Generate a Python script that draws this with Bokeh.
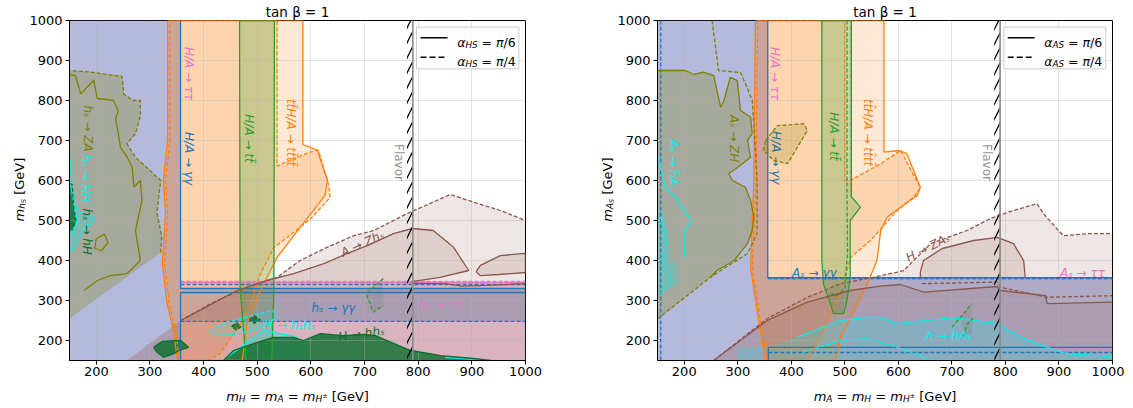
import math
from bokeh.plotting import figure
from bokeh.models import Label, FixedTicker
from bokeh.layouts import row, column
from bokeh.embed import file_html
from bokeh.resources import INLINE

# ------------------------------------------------------------------ data
M_MIN, M_MAX = 150, 1000
TICKS = [200, 300, 400, 500, 600, 700, 800, 900, 1000]
FLAVOR_M = 790
TITLE_TEXT = "tan β = 1"

# ---------- left panel (alpha_HS), x = m_H = m_A = m_H+, y = m_hS
L_EDGE_X = 357
L_TAUTAU = (345, 348)      # h_S -> tau tau  (solid, dashed)
L_HA_GAGA = (330, 340)     # H/A -> gamma gamma (solid, dashed)
L_HS_GAGA = (320, 248)     # h_S -> gamma gamma (solid, dashed)

L_ORANGE_SOLID = [(333, 1000), (585, 1000), (585, 690), (612, 676), (631, 600), (626, 562), (580, 483),
                  (537, 408), (506, 325), (481, 242), (472, 150), (351, 150), (344, 225), (332, 292),
                  (323, 392), (329, 517), (325, 600), (333, 700)]
L_ORANGE_DASHED = [(337, 1000), (537, 1000), (537, 636), (568, 655), (599, 671), (614, 676), (633, 590),
                   (636, 558), (600, 505), (556, 458), (531, 433), (506, 367), (487, 292), (469, 242),
                   (431, 167), (407, 150), (355, 150), (348, 225), (336, 292), (327, 392), (333, 517),
                   (329, 600), (337, 700)]
L_GREEN = [(467, 1000), (532, 1000), (531, 330), (527, 150), (479, 150), (468, 330)]
L_BROWN_SOLID = [(357, 250), (400, 280), (462, 325), (518, 350), (568, 367), (624, 392), (674, 421),
                 (705, 437), (754, 467), (789, 480), (828, 475), (866, 433), (894, 375), (841, 358),
                 (791, 348)]
L_BROWN_ISLAND = [(908, 372), (916, 388), (953, 412), (1000, 418), (1000, 370), (950, 365), (916, 362)]
L_BROWN_LOWER = [(790, 343), (850, 342), (880, 336), (930, 338), (1000, 342)]
L_BROWN_DASHED = [(357, 250), (413, 292), (481, 333), (537, 358), (580, 400), (630, 433), (680, 462),
                  (717, 475), (779, 517), (860, 565), (903, 546), (953, 525), (1000, 500)]
L_OLIVE_EDGE = [(150, 255), (320, 420)]
L_OLIVE_DASHED = [(320, 420), (322, 460), (313, 520), (320, 600), (300, 625), (273, 658), (257, 692),
                  (273, 717), (282, 760), (282, 800), (267, 800), (251, 817), (248, 860), (189, 871),
                  (150, 875)]
L_OLIVE_SOLID = [(150, 865), (161, 862), (171, 817), (195, 850), (202, 805), (232, 800), (241, 775),
                 (236, 755), (241, 717), (245, 683), (258, 657), (267, 633), (270, 583), (282, 600),
                 (285, 550), (273, 475), (282, 400), (257, 367), (226, 362), (202, 350), (177, 325)]
L_OLIVE_LOOP = [(200, 455), (215, 466), (222, 445), (210, 425), (197, 430), (200, 455)]
L_CYAN_HH = [(150, 667), (155, 583), (164, 525), (198, 505), (175, 470), (152, 417)]
L_CYAN_HH_SOLID = [(150, 600), (153, 580), (164, 500), (152, 455)]
L_DKGREEN_HH = [(150, 592), (155, 590), (158, 530), (162, 500), (156, 478), (150, 475)]
L_DKGREEN_BOTTOM = [(437, 150), (456, 175), (493, 192), (530, 208), (568, 208), (586, 200), (618, 217),
                    (660, 212), (700, 215), (720, 212), (786, 175), (842, 162), (903, 155), (934, 150)]
L_DKGREEN_PATCH = [(307, 183), (323, 198), (357, 200), (372, 183), (354, 175), (344, 167), (325, 158),
                   (313, 171)]
L_DKGREEN_DIAMOND1 = [(452, 235), (461, 244), (470, 235), (461, 226)]
L_DKGREEN_DIAMOND2 = [(485, 252), (495, 262), (505, 252), (495, 243)]
L_CYAN_HSHS_DASHED = [(412, 225), (444, 246), (487, 262), (530, 275), (537, 258), (506, 233), (469, 217),
                      (425, 212), (412, 225)]
L_CYAN_HSHS_SOLID = [(444, 158), (469, 183), (512, 225), (562, 212), (574, 208)]
L_CYAN_TAIL = [(850, 158), (900, 153), (945, 150)]
L_GRAY_ISLAND = [(735, 355), (703, 317), (716, 271), (735, 287)]

# ---------- right panel (alpha_AS), x = m_A = m_H = m_H+, y = m_AS
R_EDGE_X = 356
R_TAUTAU = (354, 356)      # A_S -> tau tau (solid, dashed)
R_HA_GAGA = (357, 355)     # gamma gamma upper (solid, dashed)
R_LOW_BOX = (183, 170)     # lower gamma gamma box (solid, dashed)
R_BLUE_VLINE = 156

R_ORANGE_SOLID = [(333, 1000), (573, 1000), (573, 671), (601, 675), (616, 667), (641, 583), (635, 562),
                  (604, 533), (579, 508), (567, 475), (560, 400), (542, 342), (517, 275), (492, 208),
                  (482, 150), (352, 150), (339, 250), (324, 383), (330, 600)]
R_ORANGE_DASHED = [(337, 1000), (500, 1000), (500, 600), (510, 600), (567, 642), (604, 675), (641, 583),
                   (630, 560), (598, 525), (548, 450), (511, 408), (504, 375), (492, 325), (461, 225),
                   (430, 150), (355, 150), (342, 250), (327, 383), (334, 600)]
R_GREEN = [(457, 1000), (512, 1000), (512, 560), (529, 533), (510, 500), (510, 358), (504, 300),
           (498, 267), (479, 267), (473, 292), (460, 342), (457, 400)]
R_GREEN_DASHED1 = [(504, 1000), (504, 560), (505, 420), (500, 330), (485, 312), (470, 320)]
R_GREEN_DASHED2 = [(512, 1000), (512, 560)]
R_BROWN_SOLID = [(255, 150), (355, 250), (430, 296), (510, 325), (566, 336), (604, 340), (647, 321),
                 (785, 335), (791, 325), (875, 312), (878, 292), (1000, 296)]
R_BROWN_ISLAND = [(641, 357), (641, 371), (647, 400), (682, 430), (741, 450), (785, 458), (815, 442),
                  (834, 400), (837, 357)]
R_BROWN_DASHED = [(255, 150), (355, 255), (430, 308), (492, 342), (553, 358), (598, 371), (610, 375),
                  (660, 442), (728, 475), (772, 505), (815, 525), (859, 542), (871, 517), (908, 462),
                  (953, 467), (1000, 467)]
R_BROWN_DASHED_LOWER = [(644, 342), (785, 346), (791, 333), (878, 308), (1000, 312)]
R_OLIVE_EDGE = [(150, 254), (249, 358)]
R_OLIVE_SOLID = [(249, 358), (261, 375), (293, 400), (318, 442), (327, 475), (330, 508), (324, 550),
                 (314, 583), (290, 600), (283, 617), (300, 633), (324, 658), (318, 700), (327, 717),
                 (324, 758), (305, 775), (299, 850), (286, 858), (274, 800), (268, 783), (261, 825),
                 (255, 862), (236, 871), (218, 865), (202, 875), (150, 875)]
R_OLIVE_DASHED = [(252, 1000), (264, 875), (305, 870), (318, 830), (327, 800), (332, 700), (336, 600),
                  (336, 467), (318, 417), (280, 385), (249, 358)]
R_OLIVE_LOOP = [(352, 700), (374, 737), (423, 742), (430, 725), (393, 642), (367, 650), (348, 675),
                (352, 700)]
R_CYAN_SOLID = [(411, 208), (492, 250), (541, 258), (566, 258), (598, 242), (703, 257), (785, 242),
                (828, 208), (895, 175), (915, 167), (1000, 160)]
R_CYAN_LEFT = [(300, 183), (357, 183)]
R_CYAN_DASHED = [(423, 171), (492, 200), (541, 205), (566, 196), (598, 183), (666, 150)]
R_CYAN_HA_SOLID = [(152, 658), (165, 583), (184, 558), (212, 500), (199, 467), (200, 408)]
R_CYAN_HA_DASHED = [(156, 508), (168, 450), (162, 400), (174, 350), (156, 317)]
R_CYAN_HA_FILL = [(150, 525), (160, 525), (170, 470), (172, 400), (187, 392), (187, 340), (170, 325),
                  (150, 315)]
R_GRAY_ISLAND = [(716, 258), (737, 292), (738, 217), (722, 217)]
R_GREEN_ISLAND1 = [(700, 233), (716, 258), (737, 292)]
R_GREEN_ISLAND2 = [(722, 210), (728, 240), (740, 256)]

# ------------------------------------------------------------------ style
FONT = "DejaVu Sans"
PINK, BLUE, ORANGE, GREEN = "#e377c2", "#1f77b4", "#ff7f0e", "#2ca02c"
BROWN, OLIVE, CYAN, DKGREEN = "#8c564b", "#808000", "#00f0f0", "#0a6e2a"
LW = 1.3
DASH = "4 2"

ADV = {' ': 0.318, '=': 0.838, '[': 0.390, ']': 0.390, 'G': 0.775, 'e': 0.615, 'V': 0.684,
       'A': 0.684, 'H': 0.752, 'S': 0.635, 'm': 0.974, 'h': 0.634, '±': 0.838, 'α': 0.659,
       'π': 0.602, '/': 0.337, 't': 0.392, 'a': 0.613, 'n': 0.634, 'β': 0.638}


def adv(s, size):
    return sum(ADV.get(c, 0.636) for c in s) * size


def xy(pts):
    return [a for a, _ in pts], [b for _, b in pts]


def rich(p, x, y, pieces, angle=0.0, xo=0.0, yo=0.0, color="black", align="center"):
    total = sum(adv(t, s) for t, s, _, _ in pieces)
    pos = -total / 2 if align == "center" else 0.0
    ca, sa = math.cos(angle), math.sin(angle)
    for t, s, sh, it in pieces:
        lead = len(t) - len(t.lstrip(' '))
        core = t.strip(' ')
        trail = len(t) - lead - len(core)
        pos += lead * 0.318 * s
        dx = pos * ca + sh * sa
        dy = pos * sa - sh * ca
        p.add_layout(Label(x=x, y=y, x_offset=xo + dx, y_offset=yo + dy, text=core, angle=angle,
                           text_font=FONT, text_font_size=f"{s}px",
                           text_font_style="italic" if it else "normal",
                           text_color=color, text_align="left", text_baseline="alphabetic"))
        pos += adv(core, s) + trail * 0.318 * s


def fill(p, pts, color, alpha):
    xs, ys = xy(pts)
    p.patch(xs, ys, fill_color=color, fill_alpha=alpha, line_alpha=0, level="image")


def line(p, pts, color, dash="solid", width=LW):
    xs, ys = xy(pts)
    p.line(xs, ys, line_color=color, line_width=width, line_dash=dash)


FRAME_H = 340
YLAB_W = 26
BORDER_L, BORDER_T, BORDER_B = 43, 20, 22


def make_fig(frame_w, border_right):
    p = figure(width=BORDER_L + frame_w + border_right, height=BORDER_T + FRAME_H + BORDER_B,
               x_range=(M_MIN, M_MAX), y_range=(M_MIN, M_MAX), title=TITLE_TEXT,
               output_backend="svg", toolbar_location=None, min_border_left=BORDER_L,
               min_border_right=border_right, min_border_top=BORDER_T, min_border_bottom=BORDER_B)
    p.title.align = "center"
    p.title.text_font = FONT
    p.title.text_font_size = "13.5px"
    p.title.text_font_style = "normal"
    p.title.text_color = "black"
    p.title.standoff = 2
    p.xaxis.ticker = FixedTicker(ticks=TICKS)
    p.yaxis.ticker = FixedTicker(ticks=TICKS)
    for ax in (p.xaxis[0], p.yaxis[0]):
        ax.major_label_text_font = FONT
        ax.major_label_text_font_size = "13px"
        ax.major_label_text_color = "black"
        ax.axis_line_color = "black"
        ax.major_tick_line_color = "black"
        ax.major_tick_in = 0
        ax.major_tick_out = 4
        ax.minor_tick_line_color = None
    p.yaxis.major_label_standoff = 3
    p.xaxis.major_label_standoff = 2
    p.outline_line_color = "black"
    p.outline_line_alpha = 1
    p.grid.grid_line_color = "#b0b0b0"
    p.grid.grid_line_alpha = 0.45
    p.grid.grid_line_width = 0.8
    p.background_fill_color = "white"
    return p


def strip(w, h):
    s = figure(width=w, height=h, x_range=(0, w), y_range=(0, h), output_backend="svg",
               toolbar_location=None, min_border=0, x_axis_type=None, y_axis_type=None)
    s.outline_line_color = None
    s.grid.visible = False
    return s


FW, FH = 456.0, 340.0


def px(p_dx, p_dy):
    """frame-relative pixel -> data"""
    return (M_MIN + p_dx * (M_MAX - M_MIN) / FW, M_MAX - p_dy * (M_MAX - M_MIN) / FH)


def decorate(p, sub, labels):
    # flavor line
    p.quad(left=FLAVOR_M - 11, right=FLAVOR_M - 0.5, bottom=M_MIN, top=M_MAX, fill_alpha=0,
           line_alpha=0, hatch_pattern="/", hatch_color="black", hatch_scale=15, hatch_weight=1.3)
    p.line([FLAVOR_M, FLAVOR_M], [M_MIN, M_MAX], line_color="#8a8a8a", line_width=1.6)
    p.add_layout(Label(x=765, y=645, text="Flavor", angle=-math.pi / 2, text_font=FONT,
                       text_font_size="12px", text_color="#909090", text_align="center",
                       text_baseline="middle"))
    # legend
    bl, bt = px(347, 6.7)
    br, bb = px(449.3, 48.3)
    p.quad(left=bl, right=br, bottom=bb, top=bt, fill_color="white", fill_alpha=0.85,
           line_color="#cccccc", line_width=1)
    for k, (dash, frac) in enumerate((("solid", "6"), ("6 3", "4"))):
        ry = 17.3 + 19.4 * k
        x1, yy = px(351, ry)
        x2, _ = px(378, ry)
        p.line([x1, x2], [yy, yy], line_color="black", line_width=1.6, line_dash=dash)
        tx, ty = px(387.7, ry + 4.4)
        rich(p, tx, ty, [("α", 12.5, 0, True), (sub, 8.75, 2.5, True), (" = ", 12.5, 0, False),
                         ("π", 12.5, 0, True), ("/" + frac, 12.5, 0, False)], align="left")
    # region labels
    for text, lx, ly, ang, col in labels:
        p.add_layout(Label(x=lx, y=ly, text=text, angle=math.radians(ang), text_font=FONT,
                           text_font_size="12px", text_font_style="italic", text_color=col,
                           text_align="center", text_baseline="middle"))


# ------------------------------------------------------------------ left panel
p1 = make_fig(456, 63)
fill(p1, [(M_MIN, M_MIN), (M_MAX, M_MIN), (M_MAX, L_TAUTAU[0]), (L_EDGE_X, L_TAUTAU[0]),
          (L_EDGE_X, M_MAX), (M_MIN, M_MAX)], PINK, 0.3)
fill(p1, [(M_MIN, M_MIN), (L_EDGE_X, M_MIN), (L_EDGE_X, L_HS_GAGA[1]), (M_MAX, L_HS_GAGA[1]),
          (M_MAX, L_HA_GAGA[0]), (L_EDGE_X, L_HA_GAGA[0]), (L_EDGE_X, M_MAX), (M_MIN, M_MAX)], BLUE, 0.3)
fill(p1, L_OLIVE_EDGE + L_OLIVE_DASHED, OLIVE, 0.28)
fill(p1, L_CYAN_HH + [(M_MIN, 417)], CYAN, 0.25)
fill(p1, L_ORANGE_SOLID, ORANGE, 0.18)
fill(p1, L_ORANGE_DASHED, ORANGE, 0.18)
fill(p1, L_GREEN, GREEN, 0.25)
fill(p1, [(257, M_MIN)] + L_BROWN_DASHED + [(M_MAX, M_MIN)], BROWN, 0.15)
fill(p1, [(257, M_MIN)] + L_BROWN_SOLID + [(M_MAX, 346), (M_MAX, M_MIN)], BROWN, 0.15)
fill(p1, L_BROWN_ISLAND, BROWN, 0.15)
fill(p1, L_CYAN_HSHS_DASHED, CYAN, 0.15)
fill(p1, [(430, M_MIN)] + L_CYAN_HSHS_SOLID + [(586, 200), (600, M_MIN)], CYAN, 0.25)
fill(p1, L_DKGREEN_BOTTOM, DKGREEN, 0.8)
fill(p1, L_DKGREEN_PATCH, DKGREEN, 0.8)
fill(p1, L_DKGREEN_HH, DKGREEN, 0.8)
fill(p1, L_DKGREEN_DIAMOND1, DKGREEN, 0.8)
fill(p1, L_DKGREEN_DIAMOND2, DKGREEN, 0.8)
fill(p1, L_GRAY_ISLAND, "#8a8a8a", 0.35)

line(p1, [(L_EDGE_X, L_TAUTAU[0]), (M_MAX, L_TAUTAU[0])], PINK)
line(p1, [(L_EDGE_X, L_TAUTAU[1]), (M_MAX, L_TAUTAU[1])], PINK, DASH)
line(p1, [(L_EDGE_X, M_MAX), (L_EDGE_X, L_HA_GAGA[0]), (M_MAX, L_HA_GAGA[0])], BLUE)
line(p1, [(L_EDGE_X, L_HA_GAGA[1]), (M_MAX, L_HA_GAGA[1])], BLUE, DASH)
line(p1, [(L_EDGE_X, M_MIN), (L_EDGE_X, L_HS_GAGA[0]), (M_MAX, L_HS_GAGA[0])], BLUE)
line(p1, [(L_EDGE_X, L_HS_GAGA[1]), (M_MAX, L_HS_GAGA[1])], BLUE, DASH)
line(p1, L_ORANGE_SOLID + L_ORANGE_SOLID[:1], ORANGE)
line(p1, L_ORANGE_DASHED + L_ORANGE_DASHED[:1], ORANGE, DASH)
line(p1, L_GREEN + L_GREEN[:1], GREEN)
line(p1, L_BROWN_SOLID, BROWN)
line(p1, L_BROWN_ISLAND + L_BROWN_ISLAND[:1], BROWN)
line(p1, L_BROWN_LOWER, BROWN)
line(p1, L_BROWN_DASHED, BROWN, DASH)
line(p1, L_OLIVE_DASHED, OLIVE, DASH)
line(p1, L_OLIVE_SOLID, OLIVE)
line(p1, L_OLIVE_LOOP, OLIVE)
line(p1, L_CYAN_HH, CYAN, DASH)
line(p1, L_CYAN_HH_SOLID, CYAN)
line(p1, L_DKGREEN_HH, DKGREEN, DASH)
line(p1, L_CYAN_HSHS_DASHED, CYAN, DASH)
line(p1, L_CYAN_HSHS_SOLID, CYAN)
line(p1, L_CYAN_TAIL, CYAN)
line(p1, L_DKGREEN_BOTTOM, DKGREEN)
line(p1, L_DKGREEN_PATCH + L_DKGREEN_PATCH[:1], DKGREEN)
line(p1, L_DKGREEN_DIAMOND1 + L_DKGREEN_DIAMOND1[:1], DKGREEN, DASH)
line(p1, L_DKGREEN_DIAMOND2 + L_DKGREEN_DIAMOND2[:1], DKGREEN, DASH)
line(p1, L_GRAY_ISLAND, GREEN, DASH)

LEFT_LABELS = [
    ("H/A → ττ", 372, 867, -90, PINK),
    ("H/A → γγ", 372, 655, -90, BLUE),
    ("H/A → tt̄", 484, 705, -90, GREEN),
    ("tt̄H/A → tt̄tt̄", 562, 720, -90, ORANGE),
    ("hₛ → ZA", 185, 730, -90, OLIVE),
    ("hₛ → HH", 180, 605, -90, CYAN),
    ("hₛ → hH", 182, 472, -90, DKGREEN),
    ("A → Zhₛ", 696, 442, 25, BROWN),
    ("hₛ → γγ", 642, 282, 0, BLUE),
    ("hₛ → ττ", 842, 290, 0, PINK),
    ("H → hhₛ", 694, 217, 8, DKGREEN),
    ("H → hₛhₛ", 560, 240, 0, CYAN),
]
decorate(p1, "HS", LEFT_LABELS)

# ------------------------------------------------------------------ right panel
p2 = make_fig(455, 12)
fill(p2, [(M_MIN, M_MIN), (M_MAX, M_MIN), (M_MAX, R_TAUTAU[0]), (R_EDGE_X, R_TAUTAU[0]),
          (R_EDGE_X, M_MAX), (M_MIN, M_MAX)], PINK, 0.3)
fill(p2, [(M_MIN, M_MIN), (M_MAX, M_MIN), (M_MAX, R_HA_GAGA[0]), (R_EDGE_X, R_HA_GAGA[0]),
          (R_EDGE_X, M_MAX), (M_MIN, M_MAX)], BLUE, 0.3)
fill(p2, R_OLIVE_EDGE[:1] + R_OLIVE_SOLID, OLIVE, 0.28)
fill(p2, R_CYAN_HA_FILL, CYAN, 0.25)
fill(p2, R_ORANGE_SOLID, ORANGE, 0.18)
fill(p2, R_ORANGE_DASHED, ORANGE, 0.18)
fill(p2, R_GREEN, GREEN, 0.25)
fill(p2, R_OLIVE_LOOP, OLIVE, 0.2)
fill(p2, R_BROWN_DASHED + [(M_MAX, M_MIN)], BROWN, 0.15)
fill(p2, R_BROWN_SOLID + [(M_MAX, M_MIN)], BROWN, 0.15)
fill(p2, R_BROWN_ISLAND, BROWN, 0.15)
fill(p2, [(300, M_MIN)] + R_CYAN_LEFT + R_CYAN_SOLID + [(M_MAX, M_MIN)], CYAN, 0.2)
fill(p2, R_GRAY_ISLAND, "#8a8a8a", 0.35)

line(p2, [(R_EDGE_X, R_TAUTAU[0]), (M_MAX, R_TAUTAU[0])], PINK)
line(p2, [(R_EDGE_X, R_TAUTAU[1]), (M_MAX, R_TAUTAU[1])], PINK, DASH)
line(p2, [(R_EDGE_X, M_MAX), (R_EDGE_X, R_HA_GAGA[0]), (M_MAX, R_HA_GAGA[0])], BLUE)
line(p2, [(R_EDGE_X, R_HA_GAGA[1]), (M_MAX, R_HA_GAGA[1])], BLUE, DASH)
line(p2, [(357, M_MIN), (357, R_LOW_BOX[0]), (M_MAX, R_LOW_BOX[0])], BLUE)
line(p2, [(357, R_LOW_BOX[1]), (M_MAX, R_LOW_BOX[1])], BLUE, DASH)
line(p2, [(R_BLUE_VLINE, M_MIN), (R_BLUE_VLINE, M_MAX)], BLUE, DASH)
line(p2, R_ORANGE_SOLID + R_ORANGE_SOLID[:1], ORANGE)
line(p2, R_ORANGE_DASHED + R_ORANGE_DASHED[:1], ORANGE, DASH)
line(p2, R_GREEN + R_GREEN[:1], GREEN)
line(p2, R_GREEN_DASHED1, GREEN, DASH)
line(p2, R_GREEN_DASHED2, GREEN, DASH)
line(p2, R_BROWN_SOLID, BROWN)
line(p2, R_BROWN_ISLAND, BROWN)
line(p2, R_BROWN_DASHED, BROWN, DASH)
line(p2, R_BROWN_DASHED_LOWER, BROWN, DASH)
line(p2, R_OLIVE_SOLID, OLIVE)
line(p2, R_OLIVE_DASHED, OLIVE, DASH)
line(p2, R_OLIVE_EDGE, OLIVE, DASH)
line(p2, R_OLIVE_LOOP, OLIVE, DASH)
line(p2, R_CYAN_SOLID, CYAN)
line(p2, R_CYAN_DASHED, CYAN, DASH)
line(p2, R_CYAN_HA_SOLID, CYAN)
line(p2, R_CYAN_HA_DASHED, CYAN, DASH)
line(p2, R_GREEN_ISLAND1, GREEN, DASH)
line(p2, R_GREEN_ISLAND2, GREEN, DASH)

RIGHT_LABELS = [
    ("H/A → ττ", 370, 867, -90, PINK),
    ("H/A → γγ", 372, 657, -90, BLUE),
    ("H/A → tt̄", 479, 710, -90, GREEN),
    ("tt̄H/A → tt̄tt̄", 544, 720, -90, ORANGE),
    ("Aₛ → ZH", 292, 705, -90, OLIVE),
    ("Aₛ → hA", 180, 645, -90, CYAN),
    ("Aₛ → γγ", 443, 370, 0, BLUE),
    ("Aₛ → ττ", 944, 370, 0, PINK),
    ("H → ZAₛ", 655, 432, 27, BROWN),
    ("A → hAₛ", 694, 212, 0, CYAN),
]
decorate(p2, "AS", RIGHT_LABELS)

# ------------------------------------------------------------------ text strips (axis labels)
TOTAL_W = YLAB_W + p1.width + YLAB_W + p2.width
CX1 = YLAB_W + BORDER_L + 456 / 2
CX2 = YLAB_W + p1.width + YLAB_W + BORDER_L + 455 / 2

PANEL_H = p1.height
ylab1 = strip(YLAB_W, PANEL_H)
ylab2 = strip(YLAB_W, PANEL_H)
YC = PANEL_H - BORDER_T - FRAME_H / 2
for s, sub in ((ylab1, "h"), (ylab2, "A")):
    rich(s, 19, YC, [("m", 13, 0, True), (sub, 9, 2.6, True), ("S", 6.5, 4.0, True),
                     (" [GeV]", 13, 0, False)], angle=math.pi / 2)

XLAB_H = 408 - PANEL_H
xlab_strip = strip(TOTAL_W, XLAB_H)
XL1 = [("m", 13, 0, True), ("H", 9, 2.6, True), (" = ", 13, 0, False), ("m", 13, 0, True),
       ("A", 9, 2.6, True), (" = ", 13, 0, False), ("m", 13, 0, True), ("H", 9, 2.6, True),
       ("±", 6.5, -1.0, False), (" [GeV]", 13, 0, False)]
XL2 = [("m", 13, 0, True), ("A", 9, 2.6, True), (" = ", 13, 0, False), ("m", 13, 0, True),
       ("H", 9, 2.6, True), (" = ", 13, 0, False), ("m", 13, 0, True), ("H", 9, 2.6, True),
       ("±", 6.5, -1.0, False), (" [GeV]", 13, 0, False)]
rich(xlab_strip, CX1, 12, XL1)
rich(xlab_strip, CX2, 12, XL2)

layout = column(row(ylab1, p1, ylab2, p2), xlab_strip)
open("out.html", "w").write(file_html(layout, INLINE))
